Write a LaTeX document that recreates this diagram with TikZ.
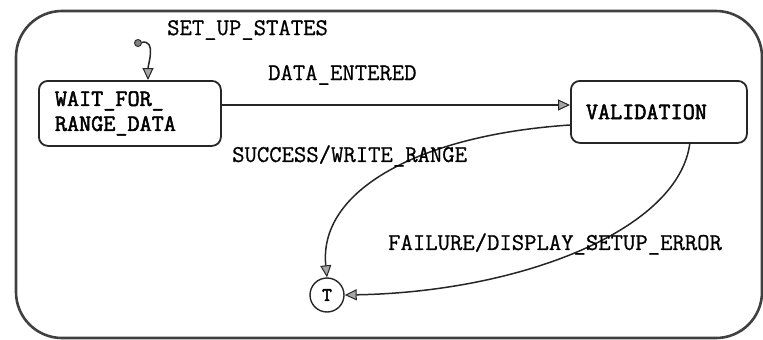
\documentclass[tikz,border=0pt]{standalone}
\usepackage{fontspec}
\newfontfamily\lblfont[FakeBold=0.8]{Latin Modern Mono}
\newfontfamily\boxfont[FakeBold=2.2]{Latin Modern Mono}
\usetikzlibrary{arrows.meta}
\begin{document}
\begin{tikzpicture}[x=1pt,y=-1pt,
  lbl/.style={font=\lblfont\fontsize{24}{25}\selectfont, inner sep=0pt},
  statebox/.style={draw=black!85, line width=1.8pt, rounded corners=9pt, font=\boxfont\fontsize{23.5}{25}\selectfont, align=left},
  conn/.style={draw=black!85, line width=1.5pt, -{Triangle[length=12pt,width=11pt,fill=gray!70,line width=1pt]}}]
\useasboundingbox (0,0) rectangle (763,340);
\draw[line width=2.6pt, black!75, rounded corners=46pt] (16,11) rectangle (762,338);
\node[statebox, text width=150pt, inner xsep=16pt, minimum height=65pt, anchor=north west] (wait) at (38,80) {WAIT\_FOR\_\\RANGE\_DATA};
\node[statebox, text width=146pt, inner xsep=15pt, minimum height=62pt, anchor=north west] (val) at (570,80) {VALIDATION};
\node[draw=black!85, line width=1.4pt, circle, minimum size=34pt, inner sep=0pt, font=\boxfont\fontsize{19}{20}\selectfont] (T) at (327,295) {T};
\node[circle, fill=gray, draw=black!80, line width=1pt, minimum size=7pt, inner sep=0pt] (init) at (138,43) {};
\draw[conn] (init) to[out=10, in=90] (148,80);
\draw[conn] (wait.east |- 0,105) -- (val.west |- 0,105);
\draw[conn] (val.west |- 0,125) .. controls (420,135) and (318,190) .. (T.north);
\draw[conn] (690,142) .. controls (680,230) and (520,292) .. (T.east);
\node[lbl, anchor=west] (l1) at (167,30) {SET\_UP\_STATES};
\node[lbl, anchor=west] (l2) at (268,75) {DATA\_ENTERED};
\node[lbl, anchor=west] (l3) at (232,156) {SUCCESS/WRITE\_RANGE};
\node[lbl, anchor=west] (l4) at (388,244) {FAILURE/DISPLAY\_SETUP\_ERROR};
\end{tikzpicture}
\end{document}
